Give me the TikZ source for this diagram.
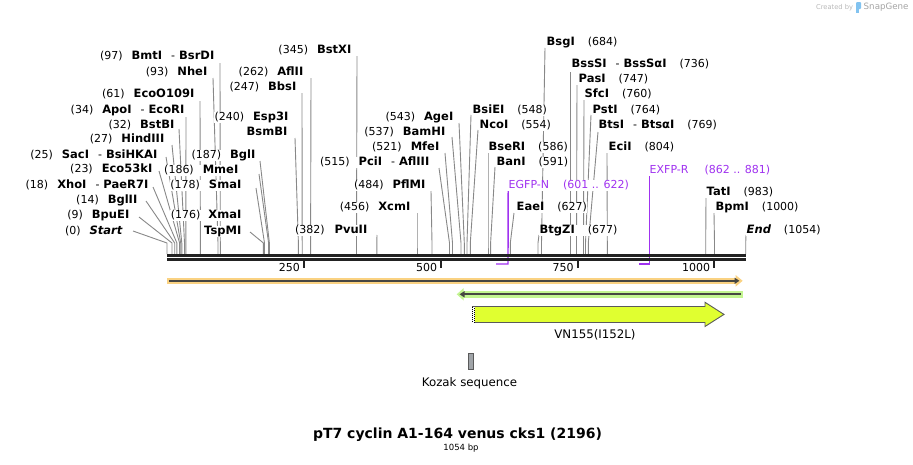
\documentclass[tikz,border=0pt]{standalone}
\usepackage{fontspec}
\setmainfont{DejaVu Sans}
\usetikzlibrary{arrows.meta,calc}
\pgfdeclarelayer{bg}
\pgfdeclarelayer{paper}
\pgfsetlayers{paper,bg,main}
\definecolor{conn}{RGB}{136,136,136}
\definecolor{barc}{RGB}{34,34,34}
\definecolor{prim}{RGB}{160,50,240}
\definecolor{orng}{RGB}{250,210,130}
\definecolor{grn}{RGB}{195,245,145}
\definecolor{darkl}{RGB}{70,70,66}
\definecolor{vfill}{RGB}{224,255,48}
\definecolor{vedge}{RGB}{90,90,90}
\definecolor{kozf}{RGB}{160,164,168}
\definecolor{wmtext}{RGB}{185,185,185}
\definecolor{wmtext2}{RGB}{165,165,165}
\definecolor{wmlogo}{RGB}{130,195,240}
\newcommand{\EnzN}[1]{{\fontsize{11.5}{13}\selectfont\bfseries #1}}
\begin{document}
\begin{tikzpicture}[x=1pt,y=-1pt,
  lab/.style={font=\fontsize{11}{13}\selectfont, fill=white, inner sep=0.5pt, text height=8pt, text depth=2pt},
  lft/.style={lab, anchor=east},
  rgt/.style={lab, anchor=west},
  prl/.style={lab, anchor=west, text=prim},
  cn/.style={draw=conn, line width=0.9pt},
  primline/.style={draw=prim, line width=1.4pt},
  ticklab/.style={font=\fontsize{11}{13}\selectfont, anchor=east, inner sep=0pt},
  tickmark/.style={draw=barc, line width=2pt}]
\useasboundingbox (0,0) rectangle (913,464);
\begin{pgfonlayer}{paper}
\fill[white] (0,0) rectangle (913,464);
\end{pgfonlayer}

% site coordinates on top of the bar
\foreach \n/\x in {0/167,9/172,14/174.7,18/176.9,23/179.6,25/180.7,27/181.8,32/184.5,34/185.8,61/200.4,93/218,97/220.3,176/263.4,178/264.5,186/268.6,187/269.4,240/298.4,247/302.2,262/310.6,345/356.5,382/376.8,456/417,484/432,515/449.5,521/452.5,537/461,543/464.3,548/467,554/470.3,586/488,591/490.6,627/510.3,677/538,684/541.5,736/570.7,747/576.5,760/583.5,764/585.5,769/588.3,804/607.3,983/705.7,1000/714.5,1054/745.7}
  \coordinate (c\n) at (\x,254);

% left labels
\node[lft] (Lstart) at (123,231) {(0)\hspace{9pt}{\fontsize{11.5}{13}\selectfont\bfseries\itshape Start}};
\node[lft] (L9) at (130,215) {(9)\hspace{9pt}\EnzN{BpuEI}};
\node[lft] (L14) at (138,200) {(14)\hspace{9pt}\EnzN{BglII}};
\node[lft] (L18) at (149,185) {(18)\hspace{9pt}\EnzN{XhoI}\hspace{9pt}-\hspace{4pt}\EnzN{PaeR7I}};
\node[lft] (L23) at (153,169) {(23)\hspace{9pt}\EnzN{Eco53kI}};
\node[lft] (L25) at (158,155) {(25)\hspace{9pt}\EnzN{SacI}\hspace{9pt}-\hspace{4pt}\EnzN{BsiHKAI}};
\node[lft] (L27) at (165,139) {(27)\hspace{9pt}\EnzN{HindIII}};
\node[lft] (L32) at (175,125) {(32)\hspace{9pt}\EnzN{BstBI}};
\node[lft] (L34) at (185,110) {(34)\hspace{9pt}\EnzN{ApoI}\hspace{9pt}-\hspace{4pt}\EnzN{EcoRI}};
\node[lft] (L61) at (195,94) {(61)\hspace{9pt}\EnzN{EcoO109I}};
\node[lft] (L93) at (208,72) {(93)\hspace{9pt}\EnzN{NheI}};
\node[lft] (L97) at (215,56) {(97)\hspace{9pt}\EnzN{BmtI}\hspace{9pt}-\hspace{4pt}\EnzN{BsrDI}};
\node[lft] (L176) at (242,215) {(176)\hspace{8pt}\EnzN{XmaI}};
\node[lft] (L176b) at (242,231) {\EnzN{TspMI}};
\node[lft] (L178) at (242,185) {(178)\hspace{9pt}\EnzN{SmaI}};
\node[lft] (L186) at (239,170) {(186)\hspace{9pt}\EnzN{MmeI}};
\node[lft] (L187) at (256,155) {(187)\hspace{9pt}\EnzN{BglI}};
\node[lft] (L240) at (289,117) {(240)\hspace{9pt}\EnzN{Esp3I}};
\node[lft] (L240b) at (288,132) {\EnzN{BsmBI}};
\node[lft] (L247) at (297,87) {(247)\hspace{9pt}\EnzN{BbsI}};
\node[lft] (L262) at (304,72) {(262)\hspace{9pt}\EnzN{AflII}};
\node[lft] (L345) at (352,50) {(345)\hspace{9pt}\EnzN{BstXI}};
\node[lft] (L382) at (368,230) {(382)\hspace{10pt}\EnzN{PvuII}};
\node[lft] (L456) at (411,207) {(456)\hspace{9pt}\EnzN{XcmI}};
\node[lft] (L484) at (426,185) {(484)\hspace{9pt}\EnzN{PflMI}};
\node[lft] (L515) at (430,162) {(515)\hspace{9pt}\EnzN{PciI}\hspace{9pt}-\hspace{4pt}\EnzN{AflIII}};
\node[lft] (L521) at (440,147) {(521)\hspace{9pt}\EnzN{MfeI}};
\node[lft] (L537) at (446,132) {(537)\hspace{9pt}\EnzN{BamHI}};
\node[lft] (L543) at (454,117) {(543)\hspace{9pt}\EnzN{AgeI}};

% right labels
\node[rgt] (R548) at (472,110) {\EnzN{BsiEI}\hspace{13pt}(548)};
\node[rgt] (R554) at (479,125) {\EnzN{NcoI}\hspace{13pt}(554)};
\node[rgt] (R586) at (488,147) {\EnzN{BseRI}\hspace{13pt}(586)};
\node[rgt] (R591) at (496,162) {\EnzN{BanI}\hspace{13pt}(591)};
\node[rgt] (R627) at (516,207) {\EnzN{EaeI}\hspace{13pt}(627)};
\node[rgt] (R677) at (539,230) {\EnzN{BtgZI}\hspace{13pt}(677)};
\node[rgt] (R684) at (546,42) {\EnzN{BsgI}\hspace{13pt}(684)};
\node[rgt] (R736) at (571,64) {\EnzN{BssSI}\hspace{9pt}-\hspace{4pt}\EnzN{BssSαI}\hspace{13pt}(736)};
\node[rgt] (R747) at (578,79) {\EnzN{PasI}\hspace{13pt}(747)};
\node[rgt] (R760) at (584,94) {\EnzN{SfcI}\hspace{13pt}(760)};
\node[rgt] (R764) at (592,110) {\EnzN{PstI}\hspace{13pt}(764)};
\node[rgt] (R769) at (598,125) {\EnzN{BtsI}\hspace{9pt}-\hspace{4pt}\EnzN{BtsαI}\hspace{13pt}(769)};
\node[rgt] (R804) at (608,147) {\EnzN{EciI}\hspace{13pt}(804)};
\node[rgt] (R983) at (706,192) {\EnzN{TatI}\hspace{13pt}(983)};
\node[rgt] (R1000) at (715,207) {\EnzN{BpmI}\hspace{13pt}(1000)};
\node[rgt] (Rend) at (746,230) {{\fontsize{11.5}{13}\selectfont\bfseries\itshape End}\hspace{13pt}(1054)};

% primers
\node[prl] (pN) at (508,185) {EGFP-N\hspace{14pt}(601 .. 622)};
\node[prl] (pR) at (649,170) {EXFP-R\hspace{16pt}(862 .. 881)};
\coordinate (pNe) at (508,264);
\coordinate (pNs) at (496,264);
\coordinate (pRe) at (649.5,264);
\coordinate (pRs) at (639,264);

\begin{pgfonlayer}{bg}
\draw[cn] ($(Lstart.east)+(10,0)$) -- (c0 |- 0,243) -- (c0);
\draw[cn] ($(L9.east)+(9,2)$) -- (c9 |- 0,243) -- (c9);
\draw[cn] ($(L14.east)+(8,1)$) -- (c14 |- 0,243) -- (c14);
\draw[cn] ($(L18.east)+(4,2)$) -- (c18 |- 0,243) -- (c18);
\draw[cn] ($(L23.east)+(6,2)$) -- (c23 |- 0,243) -- (c23);
\draw[cn] ($(L25.east)+(8,2)$) -- (c25 |- 0,243) -- (c25);
\draw[cn] ($(L27.east)+(7,6)$) -- (c27 |- 0,243) -- (c27);
\draw[cn] ($(L32.east)+(4,4)$) -- (c32 |- 0,243) -- (c32);
\draw[cn] ($(L34.east)+(1,7)$) -- (c34 |- 0,243) -- (c34);
\draw[cn] ($(L61.east)+(5,7)$) -- (c61 |- 0,243) -- (c61);
\draw[cn] ($(L93.east)+(5,6)$) -- (c93 |- 0,243) -- (c93);
\draw[cn] ($(L97.east)+(5,7)$) -- (c97 |- 0,243) -- (c97);
\draw[cn] ($(L176b.east)+(8,1)$) -- (c176 |- 0,243) -- (c176);
\draw[cn] ($(L178.east)+(14,3)$) -- (c178 |- 0,243) -- (c178);
\draw[cn] ($(L186.east)+(20,4)$) -- (c186 |- 0,243) -- (c186);
\draw[cn] ($(L187.east)+(4,6)$) -- (c187 |- 0,243) -- (c187);
\draw[cn] ($(L240b.east)+(7,6)$) -- (c240 |- 0,243) -- (c240);
\draw[cn] ($(L247.east)+(5,6)$) -- (c247 |- 0,243) -- (c247);
\draw[cn] ($(L262.east)+(7,6)$) -- (c262 |- 0,243) -- (c262);
\draw[cn] ($(L345.east)+(5,6)$) -- (c345 |- 0,243) -- (c345);
\draw[cn] ($(L382.east)+(9,5)$) -- (c382 |- 0,243) -- (c382);
\draw[cn] ($(L456.east)+(6,6)$) -- (c456 |- 0,243) -- (c456);
\draw[cn] ($(L484.east)+(5,6)$) -- (c484 |- 0,243) -- (c484);
\draw[cn] ($(L515.east)+(9,6)$) -- (c515 |- 0,243) -- (c515);
\draw[cn] ($(L521.east)+(5,6)$) -- (c521 |- 0,243) -- (c521);
\draw[cn] ($(L537.east)+(6,5)$) -- (c537 |- 0,243) -- (c537);
\draw[cn] ($(L543.east)+(5,6)$) -- (c543 |- 0,243) -- (c543);
\draw[cn] ($(R548.west)+(-1,5)$) -- (c548 |- 0,243) -- (c548);
\draw[cn] ($(R554.west)+(-1,5)$) -- (c554 |- 0,243) -- (c554);
\draw[cn] ($(R586.west)+(0,6)$) -- (c586 |- 0,243) -- (c586);
\draw[cn] ($(R591.west)+(-1,5)$) -- (c591 |- 0,243) -- (c591);
\draw[cn] ($(R627.west)+(-2,6)$) -- (c627 |- 0,243) -- (c627);
\draw[cn] ($(R677.west)+(0,5)$) -- (c677 |- 0,243) -- (c677);
\draw[cn] ($(R684.west)+(-1,6)$) -- (c684 |- 0,243) -- (c684);
\draw[cn] ($(R736.west)+(-0.3,8)$) -- (c736 |- 0,243) -- (c736);
\draw[cn] ($(R747.west)+(-1,6)$) -- (c747 |- 0,243) -- (c747);
\draw[cn] ($(R760.west)+(0,6)$) -- (c760 |- 0,243) -- (c760);
\draw[cn] ($(R764.west)+(-1,5)$) -- (c764 |- 0,243) -- (c764);
\draw[cn] ($(R769.west)+(0,7)$) -- (c769 |- 0,243) -- (c769);
\draw[cn] ($(R804.west)+(-1,6)$) -- (c804 |- 0,243) -- (c804);
\draw[cn] ($(R983.west)+(0,6)$) -- (c983 |- 0,243) -- (c983);
\draw[cn] ($(R1000.west)+(-1,6)$) -- (c1000 |- 0,243) -- (c1000);
\draw[cn] ($(Rend.west)+(0,5)$) -- (c1054 |- 0,243) -- (c1054);
% primer leaders
\draw[primline] ($(pN.west)+(0.2,6)$) -- (pNe) -- (pNs);
\draw[primline] ($(pR.west)+(0.5,6)$) -- (pRe) -- (pRs);
\end{pgfonlayer}

% sequence bar
\draw[barc, line width=2.7pt] (167,255.35) -- (746,255.35);
\draw[barc, line width=2.7pt] (167,259.65) -- (746,259.65);
% ticks
\draw[tickmark] (304,260) -- (304,268);
\draw[tickmark] (441.3,260) -- (441.3,268);
\draw[tickmark] (577.7,260) -- (577.7,268);
\draw[tickmark] (714.3,260) -- (714.3,268);
\node[ticklab] (t250) at (300,267) {250};
\node[ticklab] (t500) at (437.3,267) {500};
\node[ticklab] (t750) at (573.7,267) {750};
\node[ticklab] (t1000) at (710.3,267) {1000};

% full-length orange feature
\draw[orng, line width=5.5pt, -{Triangle[length=7pt,width=11pt]}] (167,280.8) -- (742.7,280.8);
\draw[darkl, line width=2pt, -{Triangle[length=5pt,width=6pt]}] (169,280.8) -- (739.5,280.8);
% green feature (reverse)
\draw[grn, line width=6.5pt, {Triangle[length=7pt,width=12pt]}-] (456.7,294.3) -- (743,294.3);
\draw[darkl, line width=2pt, {Triangle[length=5pt,width=6pt]}-] (459.5,294.3) -- (740.7,294.3);

% VN155 feature
\fill[vfill] (472,306.5) -- (705,306.5) -- (705,302.3) -- (724,314.4) -- (705,326.5) -- (705,322.5) -- (472,322.5) -- cycle;
\draw[vedge, line width=0.9pt] (472,306.5) -- (705,306.5) -- (705,302.3) -- (724,314.4) -- (705,326.5) -- (705,322.5) -- (472,322.5);
\fill[white] (471.6,306.5) rectangle (475,322.5);
\draw[black, line width=1pt, dash pattern=on 1pt off 1pt] (472.2,306.5) -- (472.2,322.5);
\draw[black, line width=1pt, dash pattern=on 1pt off 1pt, dash phase=1pt] (474.2,306.5) -- (474.2,322.5);
\node[font=\fontsize{11.8}{14}\selectfont, inner sep=0pt] (vnl) at (595,335) {VN155(I152L)};

% Kozak sequence
\draw[draw=vedge, fill=kozf, line width=0.9pt] (468.5,353.5) rectangle (473.7,369);
\node[font=\fontsize{11.8}{14}\selectfont, inner sep=0pt] (kozl) at (469.5,383) {Kozak sequence};

% title
\node[font=\fontsize{14}{16}\selectfont\bfseries, inner sep=0pt] (title) at (457.5,435) {pT7 cyclin A1-164 venus cks1 (2196)};
\node[font=\fontsize{8.5}{10}\selectfont, inner sep=0pt] (bp) at (461,448) {1054 bp};

% watermark
\node[font=\fontsize{6.7}{8}\selectfont, text=wmtext, anchor=west, inner sep=0pt] (wm1) at (816,7.5) {Created by};
\fill[wmlogo, rounded corners=1pt] (856,2) rectangle (861,9);
\fill[wmlogo] (856,8) rectangle (858.5,13);
\node[font=\fontsize{8.7}{10}\selectfont, text=wmtext2, anchor=west, inner sep=0pt] (wm2) at (863.5,7.5) {SnapGene};
\end{tikzpicture}
\end{document}
